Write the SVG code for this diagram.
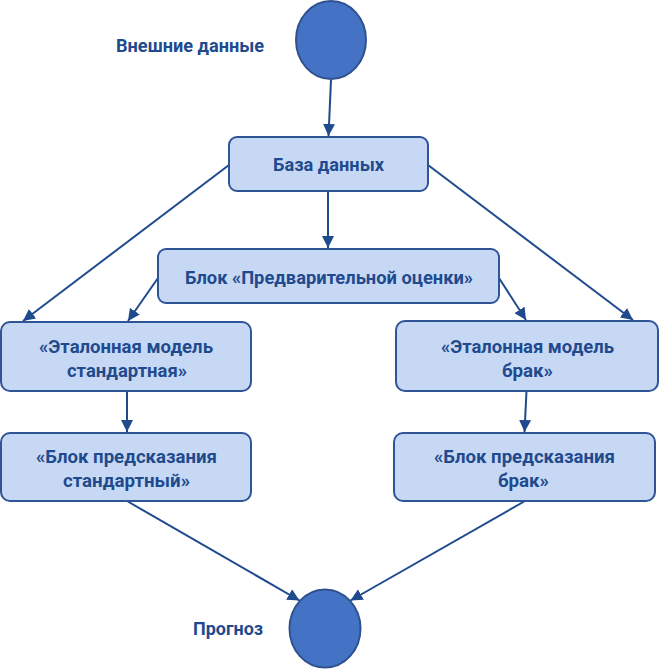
<svg xmlns="http://www.w3.org/2000/svg" width="659" height="669" viewBox="0 0 659 669">
<defs>
<style>
.box{fill:#C7D8F4;stroke:#2F5597;stroke-width:2}
.circ{fill:#4472C4;stroke:#2F528F;stroke-width:2}
.t{font-family:Roboto,"Liberation Sans",sans-serif;font-weight:bold;font-size:19px;fill:#1F4A8E;text-anchor:middle}
.c{stroke:#1F4A8E;stroke-width:2;fill:none;marker-end:url(#ah)}
</style>
<marker id="ah" markerUnits="userSpaceOnUse" markerWidth="13" markerHeight="12" refX="12" refY="6" orient="auto" viewBox="0 0 13 12">
<path d="M0,0 L12,6 L0,12 z" fill="#1F4A8E"/>
</marker>
</defs>
<rect width="659" height="669" fill="#FFFFFF"/>
<g id="connectors">
<line class="c" x1="331" y1="80" x2="328.5" y2="136"/>
<line class="c" x1="229" y1="165" x2="23" y2="321"/>
<line class="c" x1="428" y1="165" x2="633" y2="320"/>
<line class="c" x1="328" y1="191" x2="328" y2="248"/>
<line class="c" x1="158" y1="278" x2="128" y2="321"/>
<line class="c" x1="499" y1="278" x2="526" y2="320"/>
<line class="c" x1="127" y1="391" x2="127" y2="432"/>
<line class="c" x1="526.5" y1="391" x2="524.5" y2="432"/>
<line class="c" x1="127" y1="501" x2="299.5" y2="600.5"/>
<line class="c" x1="525" y1="501" x2="350.5" y2="600.5"/>
</g>
<g id="start">
<ellipse class="circ" cx="331" cy="40" rx="35" ry="39"/>
<text class="t" x="190" y="52" textLength="148" lengthAdjust="spacingAndGlyphs">Внешние данные</text>
</g>
<g id="db">
<rect class="box" x="229" y="137" width="199" height="54" rx="8"/>
<text class="t" x="328.5" y="171" textLength="111" lengthAdjust="spacingAndGlyphs">База данных</text>
</g>
<g id="pre">
<rect class="box" x="158" y="249" width="341" height="54" rx="8"/>
<text class="t" x="329" y="284" textLength="288" lengthAdjust="spacingAndGlyphs">Блок «Предварительной оценки»</text>
</g>
<g id="model-std">
<rect class="box" x="1" y="322" width="250" height="69" rx="9"/>
<text class="t" x="126" y="353" textLength="174" lengthAdjust="spacingAndGlyphs">«Эталонная модель</text>
<text class="t" x="127" y="377" textLength="120" lengthAdjust="spacingAndGlyphs">стандартная»</text>
</g>
<g id="model-def">
<rect class="box" x="396" y="321" width="262" height="70" rx="9"/>
<text class="t" x="527.5" y="353" textLength="173" lengthAdjust="spacingAndGlyphs">«Эталонная модель</text>
<text class="t" x="527.5" y="377" textLength="51" lengthAdjust="spacingAndGlyphs">брак»</text>
</g>
<g id="pred-std">
<rect class="box" x="1" y="433" width="250" height="68" rx="9"/>
<text class="t" x="126.5" y="462.5" textLength="181" lengthAdjust="spacingAndGlyphs">«Блок предсказания</text>
<text class="t" x="126.5" y="487" textLength="127" lengthAdjust="spacingAndGlyphs">стандартный»</text>
</g>
<g id="pred-def">
<rect class="box" x="394" y="433" width="261" height="68" rx="9"/>
<text class="t" x="524.5" y="462.5" textLength="181" lengthAdjust="spacingAndGlyphs">«Блок предсказания</text>
<text class="t" x="523.5" y="487" textLength="51" lengthAdjust="spacingAndGlyphs">брак»</text>
</g>
<g id="end">
<ellipse class="circ" cx="325" cy="628.5" rx="35.5" ry="39"/>
<text class="t" x="228" y="635" textLength="70" lengthAdjust="spacingAndGlyphs">Прогноз</text>
</g>
</svg>
